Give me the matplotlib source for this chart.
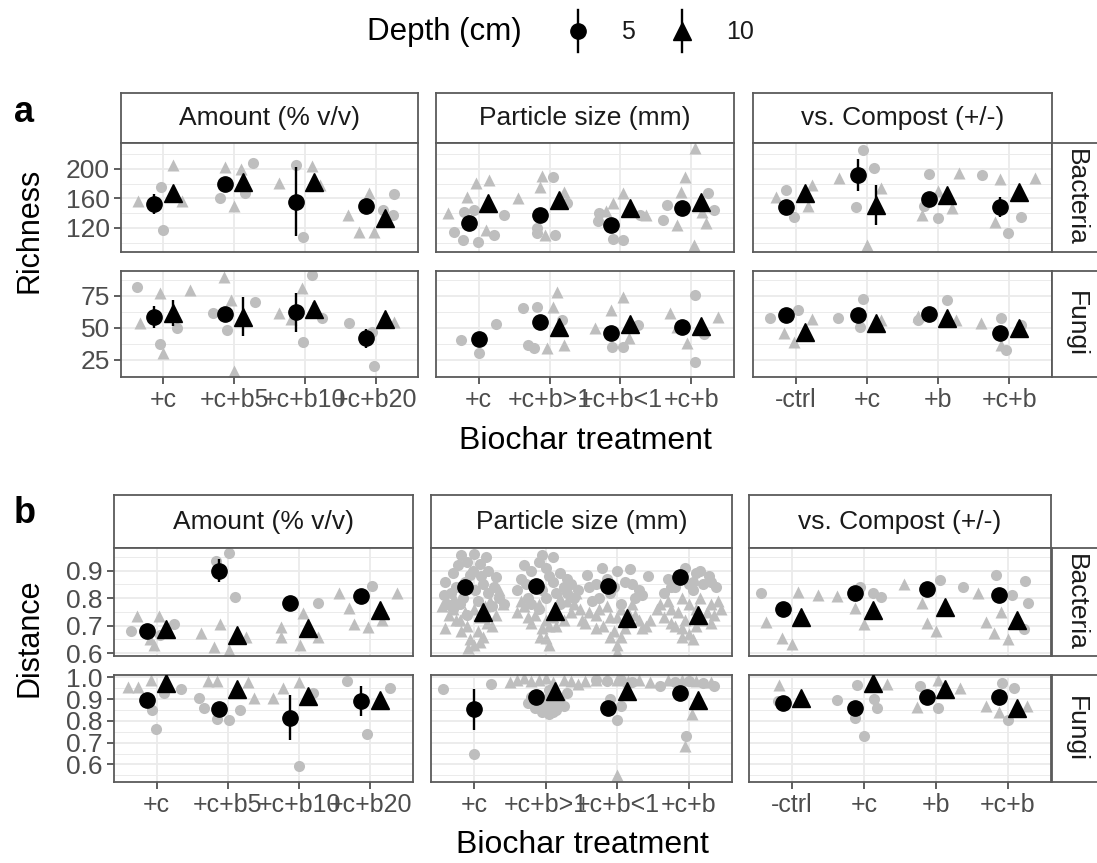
import numpy as np
import matplotlib
matplotlib.use("Agg")
import matplotlib.pyplot as plt

plt.rcParams['font.family'] = ['Liberation Sans', 'DejaVu Sans']

# ---------------- categories / labels ----------------
GROUPS = ["Amount (% v/v)", "Particle size (mm)", "vs. Compost (+/-)"]
TICKS_AMOUNT = ["+c", "+c+b5", "+c+b10", "+c+b20"]
TICKS_SIZE = ["+c", "+c+b>1", "+c+b<1", "+c+b"]
TICKS_COMPOST = ["-ctrl", "+c", "+b", "+c+b"]
ORGANISMS = ["Bacteria", "Fungi"]
DEPTHS = ["5", "10"]

# ---------------- (a) Richness, Bacteria ----------------
A_BAC_AMT_M5 = [152.5, 179.7, 155.7, 149.8]
A_BAC_AMT_E5 = [13, 5, 47, 7]
A_BAC_AMT_M10 = [167.9, 182.0, 182.8, 133.6]
A_BAC_AMT_E10 = [5, 6, 6, 8]
A_BAC_AMT_R5 = [(0.96, 176), (1.0, 117), (1.8, 161), (2.26, 208), (2.16, 167), (2.87, 205),
                (2.98, 108), (4.26, 166), (4.25, 137.6), (4.1, 145)]
A_BAC_AMT_R10 = [(0.64, 157), (1.14, 205), (1.26, 156), (1.87, 203), (2.0, 150), (2.1, 200),
                 (2.64, 181.5), (3.1, 204), (3.22, 178), (3.61, 137.6), (3.77, 115), (3.98, 115), (3.9, 167)]

A_BAC_SIZE_M5 = [126.4, 137.6, 124.0, 146.7]
A_BAC_SIZE_E5 = [5, 6, 6, 6]
A_BAC_SIZE_M10 = [153.5, 158.0, 146.7, 155.7]
A_BAC_SIZE_E10 = [6, 6, 6, 7]
A_BAC_SIZE_R5 = [(0.66, 115), (0.78, 103.7), (0.99, 101), (1.22, 110.5), (1.36, 137.6), (0.8, 141), (0.94, 144.4),
                 (2.05, 188.7), (1.83, 112.8), (2.08, 110), (2.25, 154), (1.83, 120),
                 (2.7, 140), (2.9, 105), (3.03, 104), (2.68, 130), (3.27, 137.6),
                 (3.65, 151), (3.6, 131), (4.23, 167), (4.32, 144)]
A_BAC_SIZE_R10 = [(0.57, 140), (0.83, 162.5), (0.97, 180.6), (1.15, 185), (1.1, 117),
                  (1.55, 160), (1.86, 176), (1.93, 110), (2.2, 169), (1.9, 190),
                  (3.04, 167), (2.9, 153.5), (3.36, 137.6), (2.8, 143),
                  (4.05, 228), (3.91, 189.6), (3.86, 169), (3.8, 124), (4.03, 97), (4.2, 127), (4.15, 141)]

A_BAC_COMP_M5 = [148.9, 191.9, 159.0, 148.9]
A_BAC_COMP_E5 = [4, 21.5, 6, 13.5]
A_BAC_COMP_M10 = [167.0, 151.0, 164.7, 169.2]
A_BAC_COMP_E10 = [5, 27, 6, 6]
A_BAC_COMP_R5 = [(0.87, 171.5), (0.98, 135.4), (1.94, 225.8), (2.1, 201), (1.85, 149), (2.87, 192.8),
                 (3.0, 133), (2.8, 150), (3.62, 191.9), (3.98, 112.8), (4.17, 135.4)]
A_BAC_COMP_R10 = [(0.72, 162.5), (1.23, 178), (1.17, 150), (1.61, 187.4), (2.0, 97), (2.2, 174),
                  (2.78, 137.6), (3.3, 195), (3.2, 146.7), (3.0, 170), (3.87, 186), (4.36, 188), (3.8, 128.6)]

# ---------------- (a) Richness, Fungi ----------------
A_FUN_AMT_M5 = [58.8, 60.7, 62.2, 42.0]
A_FUN_AMT_E5 = [8.5, 4, 15, 7.5]
A_FUN_AMT_M10 = [61.5, 58.8, 65.2, 56.8]
A_FUN_AMT_E10 = [10, 15, 5, 3]
A_FUN_AMT_R5 = [(0.63, 82.3), (0.95, 37.5), (1.19, 50), (1.7, 61.7), (1.9, 48.4), (2.3, 70.6),
                (2.98, 39.3), (3.1, 91.4), (3.24, 57.8), (3.62, 53.6), (3.98, 20.6), (3.95, 47)]
A_FUN_AMT_R10 = [(0.95, 77.3), (1.0, 30.5), (1.38, 79.7), (0.67, 54), (1.85, 90), (2.0, 16), (1.95, 72),
                 (2.64, 61.5), (2.96, 81.2), (2.8, 57), (4.26, 55)]

A_FUN_SIZE_M5 = [41.2, 54.4, 45.8, 51.0]
A_FUN_SIZE_E5 = [3, 5, 4, 4]
A_FUN_SIZE_M10 = [np.nan, 51.0, 52.9, 51.5]
A_FUN_SIZE_E10 = [np.nan, 4, 4, 4]
A_FUN_SIZE_R5 = [(0.75, 40.6), (1.0, 30.2), (1.25, 52.9), (1.63, 65.4), (1.83, 66.7), (1.7, 36.7),
                 (1.78, 34), (2.18, 56), (2.88, 35.4), (3.04, 35.4), (3.25, 52), (4.05, 75.8),
                 (4.05, 23.7), (4.18, 45)]
A_FUN_SIZE_R10 = [(2.1, 78.4), (2.05, 66.7), (1.96, 34), (2.2, 36.7), (2.64, 49.7), (2.87, 64),
                  (3.04, 74.5), (3.12, 42), (3.7, 61.5), (3.94, 38), (4.37, 58.8), (3.8, 51)]

A_FUN_COMP_M5 = [60.2, 60.2, 60.7, 45.8]
A_FUN_COMP_E5 = [3, 3, 3, 4]
A_FUN_COMP_M10 = [47.1, 53.6, 57.6, 49.7]
A_FUN_COMP_E10 = [3, 3, 3, 3]
A_FUN_COMP_R5 = [(0.64, 57.6), (1.03, 64), (1.6, 58.1), (1.94, 72.6), (1.9, 51), (3.12, 71.9),
                 (2.72, 56), (3.88, 57.6), (3.96, 32.8), (4.17, 52)]
A_FUN_COMP_R10 = [(0.83, 45.8), (0.97, 39.3), (1.23, 56.8), (2.2, 56), (2.72, 59), (3.25, 56),
                  (3.6, 53.6), (3.88, 36.7)]

# ---------------- (b) Distance, Bacteria ----------------
B_BAC_AMT_M5 = [0.682, 0.900, 0.784, 0.806]
B_BAC_AMT_E5 = [0.01, 0.043, 0.01, 0.01]
B_BAC_AMT_M10 = [0.687, 0.667, 0.691, 0.757]
B_BAC_AMT_E10 = [0.01, 0.01, 0.01, 0.01]
B_BAC_AMT_R5 = [(0.64, 0.682), (1.24, 0.706), (1.05, 0.668), (1.83, 0.936), (2.02, 0.963),
                (2.1, 0.803), (3.26, 0.784), (4.03, 0.844)]
B_BAC_AMT_R10 = [(0.72, 0.735), (1.03, 0.737), (0.96, 0.63), (0.9, 0.65), (1.62, 0.673), (1.89, 0.706),
                 (1.8, 0.624), (2.01, 0.612), (2.26, 0.66), (2.75, 0.697), (2.75, 0.66), (3.01, 0.63),
                 (3.05, 0.745), (3.26, 0.66), (3.56, 0.82), (3.7, 0.763), (3.77, 0.706), (3.97, 0.697),
                 (4.38, 0.82), (4.16, 0.72)]

B_BAC_SIZE_M5 = [0.840, 0.844, 0.844, 0.876]
B_BAC_SIZE_E5 = [0.01, 0.01, 0.01, 0.01]
B_BAC_SIZE_M10 = [0.751, 0.754, 0.727, 0.739]
B_BAC_SIZE_E10 = [0.01, 0.01, 0.01, 0.01]
B_BAC_SIZE_R5 = [(0.82, 0.955), (1.0, 0.96), (1.17, 0.95), (0.9, 0.93), (1.08, 0.925), (0.7, 0.89),
                 (1.2, 0.9), (0.6, 0.86), (0.95, 0.885), (1.3, 0.875), (0.75, 0.84), (1.12, 0.85),
                 (1.35, 0.8), (0.58, 0.81), (0.85, 0.8), (1.05, 0.79), (1.25, 0.77), (0.7, 0.76),
                 (1.15, 0.73), (0.9, 0.74), (1.42, 0.78),
                 (0.78, 0.92), (0.98, 0.9), (1.1, 0.88), (0.68, 0.82), (0.88, 0.86), (1.02, 0.83),
                 (1.2, 0.82), (0.8, 0.78), (1.28, 0.84), (0.62, 0.78),
                 (1.95, 0.955), (2.1, 0.95), (1.8, 0.9), (2.0, 0.91), (2.2, 0.89), (1.65, 0.87),
                 (2.35, 0.85), (1.6, 0.83), (1.85, 0.85), (2.1, 0.86), (2.3, 0.82), (1.75, 0.8),
                 (2.0, 0.8), (2.2, 0.78), (1.9, 0.76), (2.4, 0.8),
                 (1.7, 0.92), (1.9, 0.93), (2.05, 0.88), (2.25, 0.84), (1.72, 0.85), (1.95, 0.83),
                 (2.15, 0.82), (2.45, 0.83), (1.8, 0.78), (2.3, 0.87),
                 (2.57, 0.885), (2.78, 0.91), (3.0, 0.9), (3.17, 0.905), (3.43, 0.88), (2.7, 0.85),
                 (3.1, 0.86), (3.3, 0.83), (2.9, 0.82), (3.25, 0.8), (2.65, 0.79), (3.05, 0.78),
                 (2.6, 0.84), (2.85, 0.87), (3.2, 0.85), (3.35, 0.81), (2.95, 0.84), (2.75, 0.8),
                 (3.7, 0.87), (3.95, 0.91), (4.15, 0.9), (4.28, 0.88), (4.05, 0.86), (3.8, 0.84),
                 (4.2, 0.85), (4.38, 0.84), (3.65, 0.82), (4.05, 0.83),
                 (3.9, 0.88), (4.1, 0.89), (4.3, 0.86), (3.75, 0.84), (4.0, 0.85)]
B_BAC_SIZE_R10 = [(0.55, 0.77), (0.65, 0.74), (0.8, 0.72), (1.0, 0.76), (1.22, 0.79), (1.35, 0.83),
                  (0.72, 0.8), (0.9, 0.7), (1.05, 0.68), (0.95, 0.65), (1.0, 0.63), (1.12, 0.66),
                  (1.3, 0.74), (0.6, 0.69), (1.18, 0.71),
                  (0.7, 0.76), (0.82, 0.68), (0.88, 0.75), (1.08, 0.73), (1.15, 0.77), (1.25, 0.7),
                  (0.92, 0.62), (1.08, 0.64), (0.75, 0.72), (1.4, 0.78),
                  (1.7, 0.77), (1.85, 0.74), (2.0, 0.72), (2.15, 0.76), (2.3, 0.79), (2.42, 0.82),
                  (1.6, 0.75), (2.25, 0.72), (1.95, 0.69), (2.0, 0.655), (2.05, 0.7), (1.8, 0.71),
                  (2.35, 0.75),
                  (1.75, 0.73), (1.9, 0.78), (2.1, 0.73), (2.2, 0.8), (2.4, 0.78), (1.65, 0.79),
                  (1.92, 0.66), (2.05, 0.63), (2.15, 0.7), (2.48, 0.76),
                  (2.55, 0.71), (2.7, 0.74), (2.85, 0.77), (3.0, 0.73), (3.15, 0.75), (3.3, 0.72),
                  (3.4, 0.7), (2.8, 0.7), (2.95, 0.68), (3.1, 0.69), (3.0, 0.63), (3.0, 0.605),
                  (2.75, 0.76), (3.2, 0.78),
                  (2.6, 0.75), (2.7, 0.69), (2.9, 0.73), (3.05, 0.76), (3.25, 0.74), (3.35, 0.69),
                  (2.9, 0.66), (3.05, 0.66), (3.45, 0.72), (2.5, 0.72),
                  (3.55, 0.76), (3.7, 0.79), (3.85, 0.75), (4.0, 0.78), (4.15, 0.8), (4.3, 0.78),
                  (4.45, 0.76), (3.65, 0.73), (3.95, 0.72), (4.2, 0.72), (4.35, 0.74), (3.9, 0.69),
                  (4.0, 0.67), (4.05, 0.65), (3.8, 0.7),
                  (3.6, 0.78), (3.75, 0.76), (3.9, 0.8), (4.1, 0.76), (4.25, 0.75), (4.4, 0.79),
                  (3.75, 0.71), (4.1, 0.7), (3.9, 0.66), (4.3, 0.71)]

B_BAC_COMP_M5 = [0.760, 0.818, 0.832, 0.812]
B_BAC_COMP_E5 = [0.01, 0.01, 0.01, 0.01]
B_BAC_COMP_M10 = [0.731, 0.757, 0.767, 0.721]
B_BAC_COMP_E10 = [0.01, 0.01, 0.01, 0.01]
B_BAC_COMP_R5 = [(0.56, 0.818), (1.95, 0.842), (2.12, 0.82), (2.23, 0.803), (3.06, 0.866),
                 (3.37, 0.84), (3.84, 0.884), (4.24, 0.864), (4.28, 0.781), (4.06, 0.81), (4.23, 0.687)]
B_BAC_COMP_R10 = [(0.64, 0.715), (0.86, 0.655), (1.0, 0.634), (1.08, 0.824), (1.36, 0.812),
                  (1.63, 0.806), (1.88, 0.763), (2.0, 0.706), (2.56, 0.852), (2.8, 0.784),
                  (2.87, 0.709), (3.0, 0.682), (3.58, 0.818), (3.7, 0.712), (3.81, 0.673),
                  (3.9, 0.751), (4.0, 0.651)]

# ---------------- (b) Distance, Fungi ----------------
B_FUN_AMT_M5 = [0.896, 0.853, 0.814, 0.892]
B_FUN_AMT_E5 = [0.01, 0.01, 0.1035, 0.0675]
B_FUN_AMT_M10 = [0.975, 0.945, 0.914, 0.896]
B_FUN_AMT_E10 = [0.01, 0.01, 0.01, 0.01]
B_FUN_AMT_R5 = [(0.94, 0.85), (0.99, 0.761), (1.34, 0.945), (1.1, 0.93), (1.6, 0.903), (1.67, 0.86),
                (1.85, 0.807), (2.01, 0.805), (2.17, 0.85), (3.0, 0.594), (3.19, 0.93), (3.67, 0.985),
                (3.95, 0.742), (4.27, 0.95)]
B_FUN_AMT_R10 = [(0.6, 0.957), (0.74, 0.957), (0.92, 0.988), (1.72, 0.985), (1.85, 0.985),
                 (2.28, 0.98), (2.37, 0.903), (2.64, 0.903), (2.78, 0.95), (3.0, 0.98)]

B_FUN_SIZE_M5 = [0.853, 0.911, 0.857, 0.926]
B_FUN_SIZE_E5 = [0.0955, 0.01, 0.01, 0.01]
B_FUN_SIZE_M10 = [np.nan, 0.938, 0.938, 0.896]
B_FUN_SIZE_E10 = [np.nan, 0.01, 0.01, 0.015]
B_FUN_SIZE_R5 = [(0.57, 0.945), (1.24, 0.969), (1.0, 0.65),
                 (1.75, 0.88), (1.85, 0.86), (1.95, 0.84), (2.05, 0.83), (2.15, 0.85), (2.25, 0.87),
                 (1.9, 0.9), (2.1, 0.88), (2.0, 0.86), (1.8, 0.91), (2.3, 0.93), (2.05, 0.94),
                 (1.85, 0.89), (2.1, 0.84), (2.2, 0.89), (1.98, 0.88), (2.0, 0.9),
                 (2.7, 0.99), (2.85, 0.985), (3.05, 0.99), (3.2, 0.98), (3.0, 0.805), (3.05, 0.87),
                 (2.9, 0.9),
                 (3.6, 0.96), (3.8, 0.98), (4.0, 0.985), (4.2, 0.975), (4.35, 0.96), (3.96, 0.73)]
B_FUN_SIZE_R10 = [(1.5, 0.98), (1.6, 0.99), (1.7, 0.995), (1.8, 0.985), (1.9, 0.99), (2.0, 0.995),
                  (2.1, 0.98), (2.25, 0.99), (2.35, 0.985), (2.45, 0.97),
                  (2.55, 0.985), (2.7, 0.99), (2.85, 0.995), (3.0, 0.99), (3.15, 0.985), (3.3, 0.99),
                  (3.45, 0.98), (3.0, 0.55),
                  (3.7, 0.99), (3.9, 0.99), (4.1, 0.985), (4.3, 0.98), (4.04, 0.83), (3.95, 0.685)]

B_FUN_COMP_M5 = [0.883, 0.857, 0.908, 0.911]
B_FUN_COMP_E5 = [0.01, 0.01, 0.01, 0.01]
B_FUN_COMP_M10 = [0.903, 0.975, 0.945, 0.857]
B_FUN_COMP_E10 = [0.01, 0.01, 0.01, 0.01]
B_FUN_COMP_R5 = [(0.8, 0.89), (1.63, 0.896), (1.9, 0.965), (1.88, 0.811), (2.0, 0.73), (2.14, 0.9),
                 (2.18, 0.857), (2.78, 0.96), (3.03, 0.86), (3.92, 0.972), (4.08, 0.95), (4.0, 0.804)]
B_FUN_COMP_R10 = [(0.82, 0.965), (1.1, 0.89), (2.32, 0.969), (2.74, 0.865), (3.03, 0.99), (3.33, 0.95),
                  (3.7, 0.868), (3.88, 0.84), (4.26, 0.868)]

# ---------------- axis scales ----------------
A_BAC_YLIM = (87.5, 235); A_BAC_MAJOR = [120, 160, 200]; A_BAC_MINOR = [100, 140, 180, 220]
A_FUN_YLIM = (11.7, 94.5); A_FUN_MAJOR = [25, 50, 75]; A_FUN_MINOR = [12.5, 37.5, 62.5, 87.5]
B_BAC_YLIM = (0.590, 0.982); B_BAC_MAJOR = [0.6, 0.7, 0.8, 0.9]; B_BAC_MINOR = [0.65, 0.75, 0.85, 0.95]
B_FUN_YLIM = (0.519, 1.011); B_FUN_MAJOR = [0.6, 0.7, 0.8, 0.9, 1.0]; B_FUN_MINOR = [0.55, 0.65, 0.75, 0.85, 0.95]
A_BAC_LABELS = ["120", "160", "200"]
A_FUN_LABELS = ["25", "50", "75"]
B_BAC_LABELS = ["0.6", "0.7", "0.8", "0.9"]
B_FUN_LABELS = ["0.6", "0.7", "0.8", "0.9", "1.0"]

# ---------------- drawing ----------------
W, H = 1097, 863
fig = plt.figure(figsize=(W / 100, H / 100), dpi=100)

GRAY = '#BEBEBE'
BORDER = '#5A5A5A'
GRID = '#EBEBEB'
DODGE = 0.13
XTICK_FS = 18
YTICK_FS = 19
STRIP_FS = 19


def px_axes(x0, y0, x1, y1):
    return fig.add_axes([x0 / W, 1 - y1 / H, (x1 - x0) / W, (y1 - y0) / H])


def draw_panel(ax, m5, e5, m10, e10, r5, r10, ylim, major, minor, ylabels,
               first_col, bottom_row, xlabels):
    ax.set_xlim(0.4, 4.6)
    ax.set_ylim(*ylim)
    ax.set_xticks(range(1, 5))
    ax.set_yticks(major)
    ax.set_yticks(minor, minor=True)
    ax.set_axisbelow(True)
    ax.grid(True, which='major', color=GRID, lw=1.3)
    ax.grid(True, which='minor', axis='y', color=GRID, lw=0.7)
    for s in ax.spines.values():
        s.set_color(BORDER)
        s.set_linewidth(1.3)
    ax.tick_params(which='minor', length=0)
    ax.tick_params(which='major', length=5, width=1.1, color='#333333',
                   labelcolor='#4D4D4D', pad=3)
    ax.tick_params(axis='x', labelsize=XTICK_FS)
    ax.tick_params(axis='y', labelsize=YTICK_FS)
    if bottom_row:
        ax.set_xticklabels(xlabels)
    else:
        ax.tick_params(axis='x', bottom=False, labelbottom=False)
    if first_col:
        ax.set_yticklabels(ylabels)
    else:
        ax.tick_params(axis='y', left=False, labelleft=False)

    if r5:
        xs, ys = zip(*r5)
        ax.plot(xs, ys, 'o', ls='none', color=GRAY, ms=8, mec='none', zorder=2)
    if r10:
        xs, ys = zip(*r10)
        ax.plot(xs, ys, '^', ls='none', color=GRAY, ms=9, mec='none', zorder=2)

    cats = np.arange(1, 5)
    m5 = np.array(m5, float); m10 = np.array(m10, float)
    e5 = np.array(e5, float); e10 = np.array(e10, float)
    both = ~np.isnan(m5) & ~np.isnan(m10)
    off = np.where(both, DODGE, 0.0)
    x5 = cats - off
    x10 = cats + off
    ax.vlines(x5, m5 - e5, m5 + e5, color='black', lw=1.7, zorder=4)
    ax.vlines(x10, m10 - e10, m10 + e10, color='black', lw=1.7, zorder=4)
    ax.plot(x5, m5, 'o', ls='none', color='black', ms=11, zorder=5)
    ax.plot(x10, m10, '^', ls='none', color='black', ms=13, zorder=5)


def top_strip(x0, x1, y0, y1, text):
    ax = px_axes(x0, y0, x1, y1)
    ax.set_xticks([]); ax.set_yticks([])
    for s in ax.spines.values():
        s.set_color(BORDER); s.set_linewidth(1.3)
    ax.text(0.5, 0.5, text, ha='center', va='center', fontsize=STRIP_FS,
            color='#1A1A1A', transform=ax.transAxes)


def right_strip(y0, y1, text, x0=1052, x1=1100):
    ax = px_axes(x0, y0, x1, y1)
    ax.set_xticks([]); ax.set_yticks([])
    for s in ax.spines.values():
        s.set_color(BORDER); s.set_linewidth(1.3)
    ax.text(0.5, 0.5, text, ha='center', va='center', fontsize=STRIP_FS, rotation=270,
            color='#1A1A1A', transform=ax.transAxes)


XLABELS = [TICKS_AMOUNT, TICKS_SIZE, TICKS_COMPOST]

PANEL_A = {
    "Bacteria": [
        (A_BAC_AMT_M5, A_BAC_AMT_E5, A_BAC_AMT_M10, A_BAC_AMT_E10, A_BAC_AMT_R5, A_BAC_AMT_R10),
        (A_BAC_SIZE_M5, A_BAC_SIZE_E5, A_BAC_SIZE_M10, A_BAC_SIZE_E10, A_BAC_SIZE_R5, A_BAC_SIZE_R10),
        (A_BAC_COMP_M5, A_BAC_COMP_E5, A_BAC_COMP_M10, A_BAC_COMP_E10, A_BAC_COMP_R5, A_BAC_COMP_R10)],
    "Fungi": [
        (A_FUN_AMT_M5, A_FUN_AMT_E5, A_FUN_AMT_M10, A_FUN_AMT_E10, A_FUN_AMT_R5, A_FUN_AMT_R10),
        (A_FUN_SIZE_M5, A_FUN_SIZE_E5, A_FUN_SIZE_M10, A_FUN_SIZE_E10, A_FUN_SIZE_R5, A_FUN_SIZE_R10),
        (A_FUN_COMP_M5, A_FUN_COMP_E5, A_FUN_COMP_M10, A_FUN_COMP_E10, A_FUN_COMP_R5, A_FUN_COMP_R10)],
}
PANEL_B = {
    "Bacteria": [
        (B_BAC_AMT_M5, B_BAC_AMT_E5, B_BAC_AMT_M10, B_BAC_AMT_E10, B_BAC_AMT_R5, B_BAC_AMT_R10),
        (B_BAC_SIZE_M5, B_BAC_SIZE_E5, B_BAC_SIZE_M10, B_BAC_SIZE_E10, B_BAC_SIZE_R5, B_BAC_SIZE_R10),
        (B_BAC_COMP_M5, B_BAC_COMP_E5, B_BAC_COMP_M10, B_BAC_COMP_E10, B_BAC_COMP_R5, B_BAC_COMP_R10)],
    "Fungi": [
        (B_FUN_AMT_M5, B_FUN_AMT_E5, B_FUN_AMT_M10, B_FUN_AMT_E10, B_FUN_AMT_R5, B_FUN_AMT_R10),
        (B_FUN_SIZE_M5, B_FUN_SIZE_E5, B_FUN_SIZE_M10, B_FUN_SIZE_E10, B_FUN_SIZE_R5, B_FUN_SIZE_R10),
        (B_FUN_COMP_M5, B_FUN_COMP_E5, B_FUN_COMP_M10, B_FUN_COMP_E10, B_FUN_COMP_R5, B_FUN_COMP_R10)],
}

SCALES_A = {"Bacteria": (A_BAC_YLIM, A_BAC_MAJOR, A_BAC_MINOR, A_BAC_LABELS),
            "Fungi": (A_FUN_YLIM, A_FUN_MAJOR, A_FUN_MINOR, A_FUN_LABELS)}
SCALES_B = {"Bacteria": (B_BAC_YLIM, B_BAC_MAJOR, B_BAC_MINOR, B_BAC_LABELS),
            "Fungi": (B_FUN_YLIM, B_FUN_MAJOR, B_FUN_MINOR, B_FUN_LABELS)}

# layout (pixels)
LAYOUT = [
    dict(cols=[(121, 418), (436, 734), (753, 1052)], strip=(93, 143),
         rows=[(143, 252), (271, 377)], data=PANEL_A, scales=SCALES_A),
    dict(cols=[(114, 413), (431, 732), (749, 1051)], strip=(495, 548),
         rows=[(548, 656), (675, 782)], data=PANEL_B, scales=SCALES_B),
]

for L in LAYOUT:
    for ci, (x0, x1) in enumerate(L['cols']):
        top_strip(x0, x1, L['strip'][0], L['strip'][1], GROUPS[ci])
        for ri, org in enumerate(ORGANISMS):
            y0, y1 = L['rows'][ri]
            ax = px_axes(x0, y0, x1, y1)
            ylim, major, minor, ylabels = L['scales'][org]
            draw_panel(ax, *L['data'][org][ci], ylim, major, minor, ylabels,
                       first_col=(ci == 0), bottom_row=(ri == 1), xlabels=XLABELS[ci])
    for ri, org in enumerate(ORGANISMS):
        right_strip(L['rows'][ri][0], L['rows'][ri][1], org)

# texts and legend in pixel coordinates
lax = fig.add_axes([0, 0, 1, 1])
lax.set_xlim(0, W); lax.set_ylim(H, 0); lax.axis('off')

lax.text(14, 122, "a", fontsize=26, fontweight='bold', ha='left', va='baseline', color='black')
lax.text(14, 523, "b", fontsize=26, fontweight='bold', ha='left', va='baseline', color='black')
lax.text(30, 230, "Richness", fontsize=22, rotation=90, ha='center', va='center')
lax.text(30, 638, "Distance", fontsize=22, rotation=90, ha='center', va='center')
lax.text(585, 441, "Biochar treatment", fontsize=23, ha='center', va='center')
lax.text(582, 845, "Biochar treatment", fontsize=23, ha='center', va='center')

lax.text(367, 32, "Depth (cm)", fontsize=22.5, ha='left', va='center')
for kx, mk, ms, lab, tx in [(578, 'o', 11, DEPTHS[0], 628), (682, '^', 13, DEPTHS[1], 740)]:
    lax.plot([kx, kx], [10, 52], color='black', lw=1.7)
    lax.plot([kx], [31], mk, color='black', ms=ms)
    lax.text(tx, 32, lab, fontsize=18, ha='center', va='center', color='#1A1A1A')

fig.savefig("out.png", dpi=100)
